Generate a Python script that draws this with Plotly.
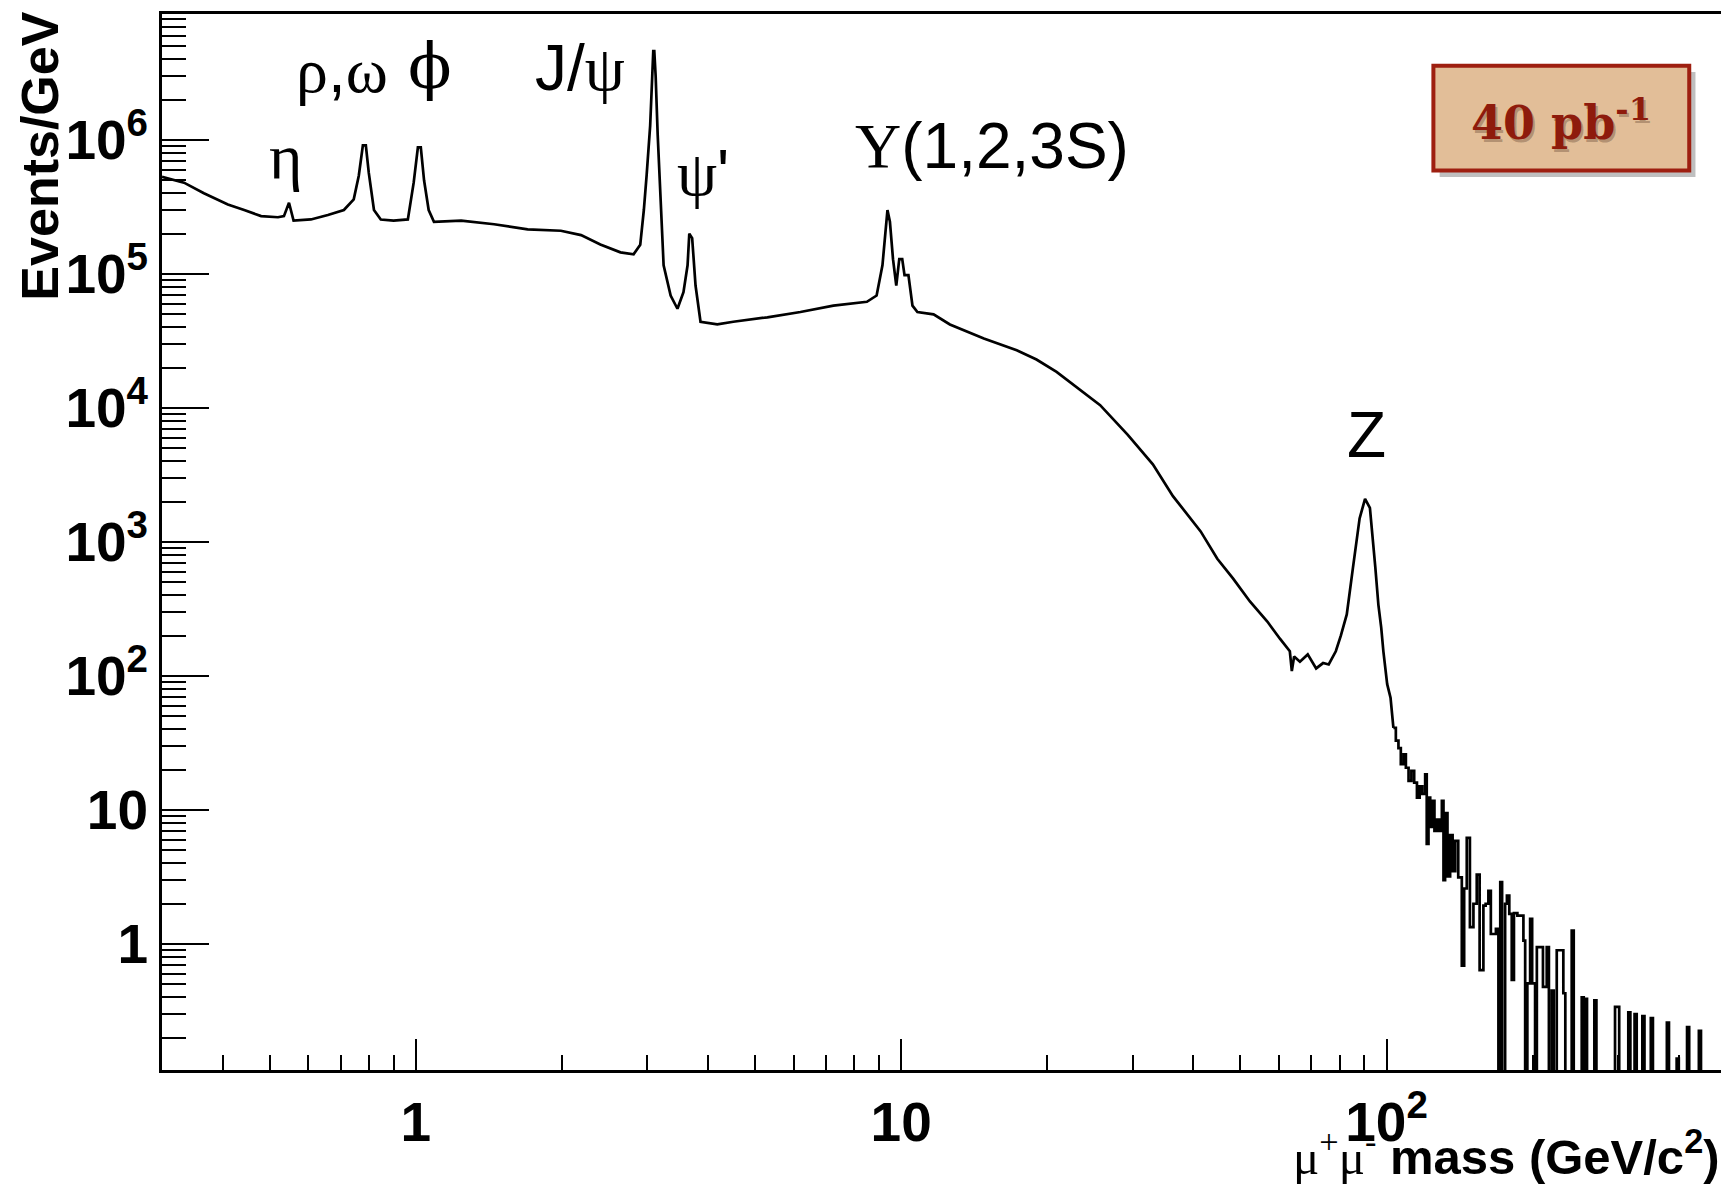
import numpy as np
import plotly.graph_objects as go

# ---------------- data ----------------
mass = [0.30, 0.333, 0.366, 0.41, 0.443, 0.48, 0.52, 0.535, 0.548, 0.56,
        0.608, 0.659, 0.711, 0.745, 0.763, 0.778, 0.789, 0.80, 0.82, 0.847,
        0.90, 0.963, 0.99, 1.01, 1.024, 1.04, 1.063, 1.09, 1.24, 1.45,
        1.70, 1.99, 2.19, 2.40, 2.64, 2.81, 2.90, 2.95, 2.99, 3.04,
        3.07, 3.085, 3.10, 3.12, 3.15, 3.20, 3.24, 3.35, 3.46, 3.56,
        3.63, 3.66, 3.71, 3.77, 3.86, 4.18, 4.51, 5.3, 6.2, 7.25,
        8.5, 8.9, 9.15, 9.28, 9.37, 9.48, 9.62, 9.77, 9.91, 10.05,
        10.16, 10.35, 10.55, 10.8, 11.66, 12.6, 14.8, 17.3, 19.0, 20.9,
        22.3, 25.7, 29.3, 33.0, 36.3, 41.4, 44.8, 48.3, 52.3, 56.8,
        60.3, 63.2, 63.8, 64.5, 66.3, 68.8, 71.6, 74.0, 76.0, 78.6,
        80.5, 82.8, 85.2, 88.0, 90.3, 92.4, 94.8, 96.2, 97.5, 98.5,
        100.3, 101.9, 103.3]
events = [5.3e5, 4.8e5, 4.0e5, 3.3e5, 3.0e5, 2.7e5, 2.65e5, 2.7e5, 3.4e5, 2.5e5,
          2.55e5, 2.75e5, 3.0e5, 3.6e5, 5.4e5, 9.1e5, 9.1e5, 5.7e5, 3.0e5, 2.55e5,
          2.5e5, 2.55e5, 4.8e5, 8.8e5, 8.8e5, 5.0e5, 3.0e5, 2.45e5, 2.5e5, 2.35e5,
          2.15e5, 2.1e5, 1.95e5, 1.66e5, 1.45e5, 1.4e5, 1.65e5, 3.0e5, 5.5e5, 1.28e6,
          3.0e6, 4.6e6, 4.6e6, 3.0e6, 1.1e6, 2.7e5, 1.16e5, 6.9e4, 5.5e4, 7.3e4,
          1.16e5, 2.0e5, 1.85e5, 8.2e4, 4.4e4, 4.2e4, 4.4e4, 4.75e4, 5.2e4, 5.8e4,
          6.2e4, 6.9e4, 1.16e5, 2.04e5, 3.0e5, 2.45e5, 1.29e5, 8.2e4, 1.29e5, 1.29e5,
          9.8e4, 9.8e4, 5.8e4, 5.2e4, 5.0e4, 4.2e4, 3.3e4, 2.7e4, 2.3e4, 1.86e4,
          1.56e4, 1.05e4, 6.3e3, 3.8e3, 2.2e3, 1.2e3, 750, 533, 360, 255,
          190, 153, 109, 140, 128, 145, 114, 125, 122, 153,
          200, 288, 630, 1500, 2100, 1800, 650, 340, 230, 153,
          87, 69, 41]

# high-mass tail: bin low edges and contents (0 = empty bin)
tail_mass = [103.3, 104.5, 105.8, 107.0, 108.4, 109.6, 111.0, 112.5, 114.0, 115.5,
             117.0, 118.5, 120.1, 121.0, 122.0, 123.0, 124.0, 125.5, 126.9, 128.5,
             130.0, 131.0, 132.0, 133.5, 135.2, 136.8, 138.5, 140.5, 142.9, 144.5,
             146.3, 148.5, 151.0, 153.4, 155.5, 158.3, 160.0, 162.1, 164.0, 166.0,
             168.0, 170.0, 171.5, 173.0, 175.5, 177.0, 179.0, 181.1, 183.0, 186.0,
             188.4, 191.4, 193.0, 195.0, 197.6, 199.5, 202.3, 204.0, 207.2, 210.0,
             213.8, 216.0, 218.9, 221.0, 224.2, 227.0, 231.3, 233.5, 240.7, 243.0,
             252.4, 254.8, 256.4, 258.8, 268.0, 270.6, 295.6, 298.5, 301.5, 314.8,
             317.9, 324.3, 327.6, 336.5, 339.9, 350.3, 353.8, 378.0, 381.8, 396.0,
             400.0, 416.0, 420.2, 440.0, 444.4]
tail_events = [41, 33, 29, 22, 26, 20.7, 16.5, 19.6, 16, 12.4,
               15, 13.2, 18.5, 5.6, 12.4, 7.5, 11.7, 7.0, 8.5, 7.0,
               11.7, 3.0, 9.5, 3.2, 6.5, 3.5, 5.9, 3.15, 0.69, 2.6,
               6.2, 1.34, 2.0, 3.3, 0.64, 1.94, 2.0, 2.5, 1.19, 1.19,
               1.3, 0, 2.9, 0, 2.0, 2.3, 1.68, 0.54, 1.7, 1.63,
               1.63, 1.06, 0, 0.51, 1.54, 0.51, 0, 0.95, 0.95, 0.48,
               0.95, 0, 0.45, 0, 0.9, 0.9, 0.43, 0, 1.26, 0,
               0.40, 0, 0.39, 0, 0.38, 0, 0.34, 0.34, 0, 0.31,
               0, 0.30, 0, 0.29, 0, 0.28, 0, 0.26, 0, 0.14,
               0, 0.24, 0, 0.225, 0]

x_tickvals = [1, 10, 100]
x_ticktext = ["1", "10", "10<sup>2</sup>"]
y_tickvals = [1, 10, 100, 1e3, 1e4, 1e5, 1e6]
y_ticktext = ["1", "10", "10<sup>2</sup>", "10<sup>3</sup>", "10<sup>4</sup>",
              "10<sup>5</sup>", "10<sup>6</sup>"]

x_range = [0.3, 491.0]
y_range = [0.115, 8.7e6]

SERIF = "Liberation Serif"
SANS = "Liberation Sans"


def g(s, fam=SERIF):
    return f'<span style="font-family:{fam}">{s}</span>'


label_text = [g("η"), g("ρ") + "," + g("ω"), g("ϕ", "DejaVu Serif"), "J/" + g("ψ"),
              g("ψ") + "'", g("Υ") + "(1,2,3S)", "Z"]
label_x = [0.0792, 0.1154, 0.1718, 0.268, 0.347, 0.532, 0.7724]
label_y = [0.865, 0.947, 0.951, 0.949, 0.849, 0.875, 0.601]

# ---------------- figure ----------------
floor = y_range[0] / 10.0
tail_plot = [v if v > 0 else floor for v in tail_events]

fig = go.Figure()
fig.add_trace(go.Scatter(x=mass, y=events, mode="lines",
                         line=dict(color="black", width=2.7), hoverinfo="skip"))
fig.add_trace(go.Scatter(x=tail_mass, y=tail_plot, mode="lines",
                         line=dict(color="black", width=2.7, shape="hv"),
                         hoverinfo="skip"))

minor_vals = [d * 10.0 ** e for e in range(-1, 7) for d in range(2, 10)]
TICKFONT = dict(family=SANS, size=55, color="black", weight="bold")

fig.update_xaxes(type="log", range=[np.log10(x_range[0]), np.log10(x_range[1])],
                 showline=True, linewidth=3, linecolor="black", mirror=True,
                 ticks="inside", ticklen=31, tickwidth=2, tickcolor="black",
                 tickmode="array", tickvals=x_tickvals, ticktext=x_ticktext,
                 tickfont=TICKFONT, ticklabelstandoff=2,
                 minor=dict(ticks="inside", ticklen=15, tickwidth=2, tickcolor="black",
                            tickmode="array", tickvals=minor_vals, showgrid=False),
                 showgrid=False, zeroline=False)
fig.update_yaxes(type="log", range=[np.log10(y_range[0]), np.log10(y_range[1])],
                 showline=True, linewidth=3, linecolor="black", mirror=True,
                 ticks="inside", ticklen=47, tickwidth=2, tickcolor="black",
                 tickmode="array", tickvals=y_tickvals, ticktext=y_ticktext,
                 tickfont=TICKFONT, ticklabelstandoff=0,
                 minor=dict(ticks="inside", ticklen=24, tickwidth=2, tickcolor="black",
                            tickmode="array", tickvals=minor_vals, showgrid=False),
                 showgrid=False, zeroline=False)

for t, x, y in zip(label_text, label_x, label_y):
    fig.add_annotation(text=t, x=x, y=y, xref="paper", yref="paper", showarrow=False,
                       xanchor="center", yanchor="middle",
                       font=dict(family=SANS, size=64, color="black"))

# axis titles
fig.add_annotation(text="<b>Events/GeV</b>", x=-0.0788, y=0.865, xref="paper", yref="paper",
                   textangle=-90, showarrow=False, xanchor="center", yanchor="middle",
                   font=dict(family=SANS, size=52, color="black"))
fig.add_annotation(text=g("μ<sup>+</sup>μ<sup>-</sup>") + " <b>mass (GeV/c<sup>2</sup>)</b>",
                   x=1.0, y=-0.079, xref="paper", yref="paper", showarrow=False,
                   xanchor="right", yanchor="middle",
                   font=dict(family=SANS, size=49, color="black"))

# luminosity box
bx0, bx1, by0, by1 = 0.815, 0.979, 0.8517, 0.951
fig.add_shape(type="rect", xref="paper", yref="paper",
              x0=bx0 + 0.004, x1=bx1 + 0.004, y0=by0 - 0.006, y1=by1 - 0.006,
              fillcolor="rgba(0,0,0,0.25)", line=dict(width=0), layer="above")
fig.add_shape(type="rect", xref="paper", yref="paper", x0=bx0, x1=bx1, y0=by0, y1=by1,
              fillcolor="#E2BE98", line=dict(color="#9E1F10", width=4), layer="above")
lumi = "40 pb<sup>-1</sup>"
cx, cy = (bx0 + bx1) / 2, (by0 + by1) / 2 - 0.002
LUMIFONT = dict(family="DejaVu Serif", size=46, weight="bold")
fig.add_annotation(text=lumi, x=cx, y=cy, xref="paper", yref="paper", showarrow=False,
                   xanchor="center", yanchor="middle", xshift=2, yshift=-3,
                   font=dict(LUMIFONT, color="rgba(60,30,20,0.3)"))
fig.add_annotation(text=lumi, x=cx, y=cy, xref="paper", yref="paper", showarrow=False,
                   xanchor="center", yanchor="middle",
                   font=dict(LUMIFONT, color="#8E1B0C"))

# page body has an 8px margin: size figure so the plot lands where the reference has it
fig.update_layout(width=1721, height=1178,
                  margin=dict(l=154, r=7, t=3, b=116, pad=0),
                  paper_bgcolor="white", plot_bgcolor="white", showlegend=False)

fig.write_html("out.html")
